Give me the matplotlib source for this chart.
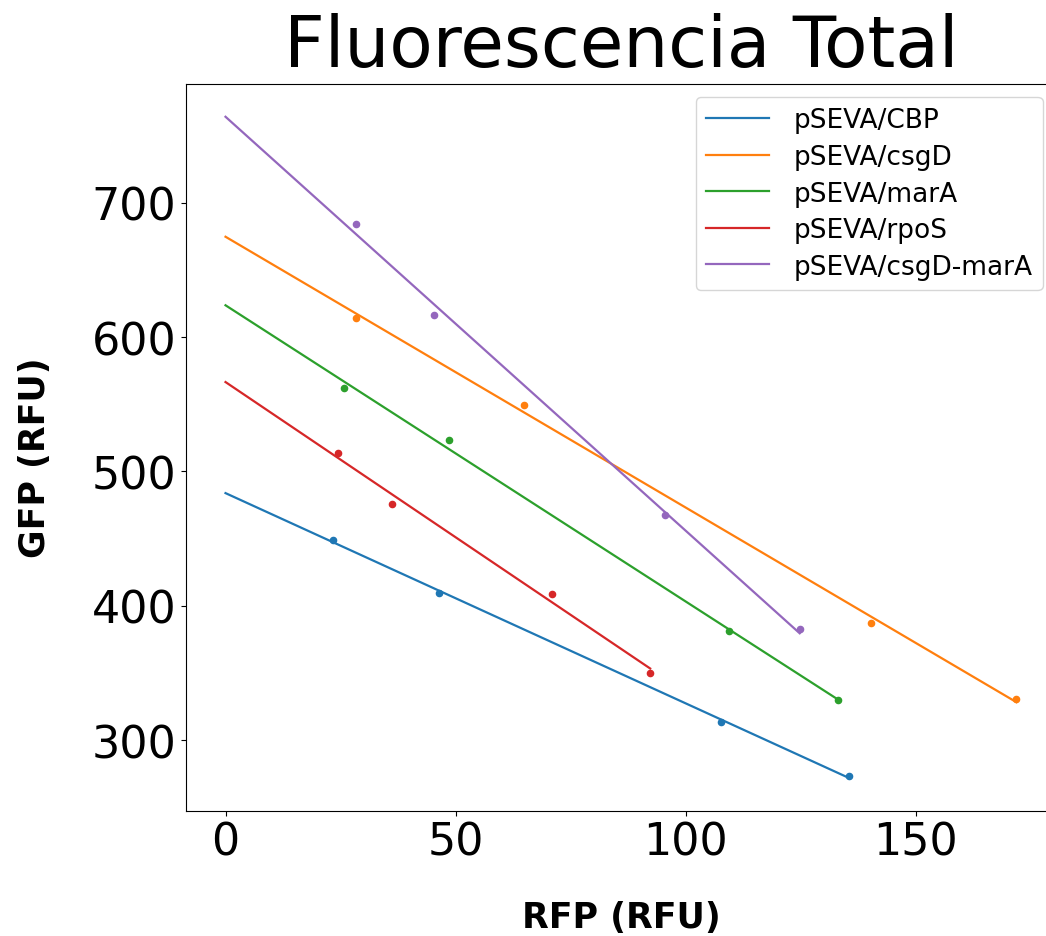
import matplotlib
matplotlib.use("Agg")
import matplotlib.pyplot as plt
import numpy as np

# RFP / GFP readings per construct
labels = ["pSEVA/CBP", "pSEVA/csgD", "pSEVA/marA", "pSEVA/rpoS", "pSEVA/csgD-marA"]
rfp_cbp = [23.3, 46.4, 107.8, 135.5]
gfp_cbp = [449.1, 409.7, 313.3, 273.6]
rfp_csgd = [28.4, 64.9, 140.3, 171.9]
gfp_csgd = [614.4, 549.4, 387.0, 330.7]
rfp_mara = [25.7, 48.6, 109.4, 133.1]
gfp_mara = [562.0, 523.3, 381.0, 330.0]
rfp_rpos = [24.5, 36.1, 70.9, 92.3]
gfp_rpos = [513.8, 476.1, 408.9, 350.3]
rfp_csgd_mara = [28.4, 45.4, 95.5, 124.8]
gfp_csgd_mara = [683.8, 616.1, 467.4, 382.6]

series = [(rfp_cbp, gfp_cbp), (rfp_csgd, gfp_csgd), (rfp_mara, gfp_mara),
          (rfp_rpos, gfp_rpos), (rfp_csgd_mara, gfp_csgd_mara)]

fig = plt.figure(figsize=(10.46, 9.37), dpi=100)
ax = fig.add_axes([0.1778, 0.1334, 0.8317, 0.7762])

for i, (lab, (x, y)) in enumerate(zip(labels, series)):
    color = "C{}".format(i)
    x = np.array(x)
    y = np.array(y)
    # linear fit drawn from 0 to the last reading
    slope, intercept = np.polyfit(x, y, 1)
    xs = np.array([0, x.max()])
    ax.plot(xs, intercept + slope * xs, color=color, label=lab, lw=1.6)
    ax.scatter(x, y, s=20, color=color)

ax.set_title("Fluorescencia Total", fontsize=51, pad=13)
ax.set_xlabel("RFP (RFU)", fontsize=25, fontweight="bold", va="top")
ax.set_ylabel("GFP (RFU)", fontsize=25, fontweight="bold")
ax.xaxis.set_label_coords(0.5, -0.122)
ax.yaxis.set_label_coords(-0.154, 0.4874)
ax.tick_params(labelsize=32)
ax.legend(loc="upper right", fontsize=19, labelspacing=0.4,
          handlelength=2.4, handletextpad=0.9)

plt.savefig("out.png", dpi=100)
